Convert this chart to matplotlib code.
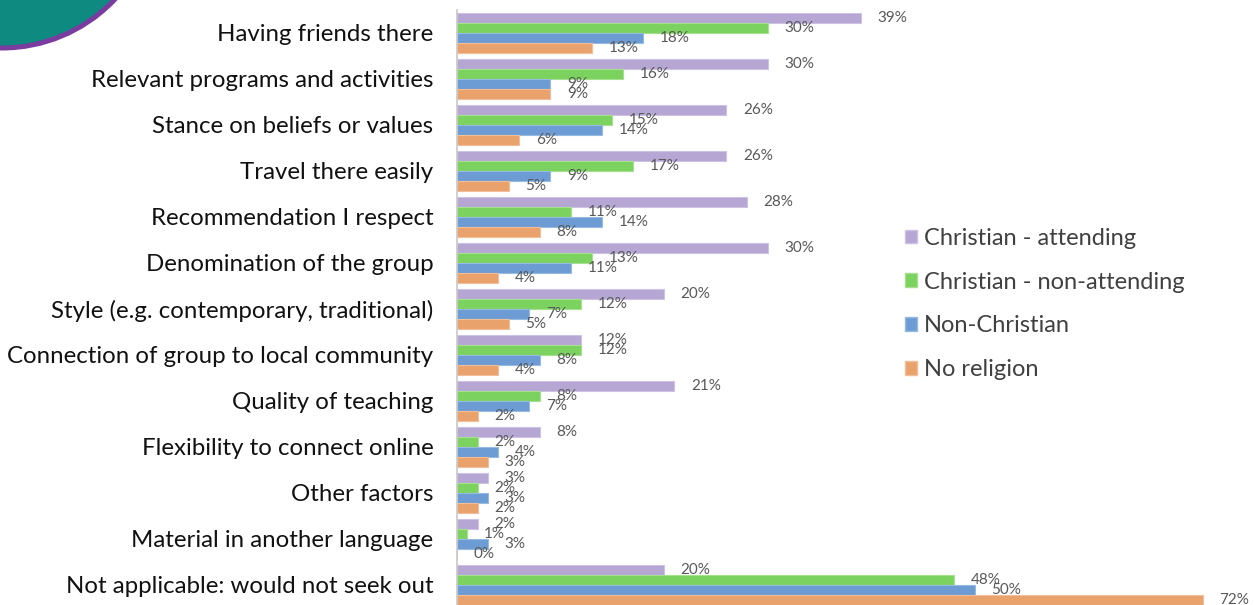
import numpy as np
import matplotlib
matplotlib.use("Agg")
import matplotlib.pyplot as plt
import matplotlib.patches as mpatches

plt.rcParams['font.family'] = ['Lato', 'DejaVu Sans']

categories = [
    "Having friends there",
    "Relevant programs and activities",
    "Stance on beliefs or values",
    "Travel there easily",
    "Recommendation I respect",
    "Denomination of the group",
    "Style (e.g. contemporary, traditional)",
    "Connection of group to local community",
    "Quality of teaching",
    "Flexibility to connect online",
    "Other factors",
    "Material in another language",
    "Not applicable: would not seek out",
]
series_names = ["Christian - attending", "Christian - non-attending",
                "Non-Christian", "No religion"]
christian_attending = [39, 30, 26, 26, 28, 30, 20, 12, 21, 8, 3, 2, 20]
christian_non_attending = [30, 16, 15, 17, 11, 13, 12, 12, 8, 2, 2, 1, 48]
non_christian = [18, 9, 14, 9, 14, 11, 7, 8, 7, 4, 3, 3, 50]
no_religion = [13, 9, 6, 5, 8, 4, 5, 4, 2, 3, 2, 0, 72]

series = [christian_attending, christian_non_attending, non_christian, no_religion]
colors = ["#B5A6D3", "#7BD25E", "#6C9CD3", "#EAA26D"]
edges = ["#CDC2E3", "#A4E08D", "#96BBE2", "#F0BE98"]

W, H = 1255, 605
fig = plt.figure(figsize=(W / 100, H / 100), dpi=100)

# axes placement (pixels)
x0, x1 = 457, 1244
y_top, y_bot = 10, 605
ax = fig.add_axes([x0 / W, 1 - y_bot / H, (x1 - x0) / W, (y_bot - y_top) / H])

n = len(categories)
y = np.arange(n)
bh = 0.2175
offsets = [-1.5, -0.5, 0.5, 1.5]

for vals, c, ec, off, name in zip(series, colors, edges, offsets, series_names):
    bars = ax.barh(y + off * bh, vals, height=bh, color=c, edgecolor=ec,
                   linewidth=0.8, label=name)
    for b, v in zip(bars, vals):
        ax.annotate(f"{v}%", (b.get_width(), b.get_y() + b.get_height() / 2),
                    xytext=(12, 0), textcoords="offset points",
                    va="center", ha="left", fontsize=11, color="#595959")

ax.set_xlim(0, 76)
ax.set_ylim(12 + 0.435, -0.5)
ax.set_yticks(y)
ax.set_yticklabels(categories, fontsize=17.3, color="#111111")
ax.tick_params(axis="y", length=0, pad=17)
ax.set_xticks([])
for s in ["top", "right", "bottom"]:
    ax.spines[s].set_visible(False)
ax.spines["left"].set_color("#C8C8C8")
ax.spines["left"].set_linewidth(1.2)

handles = [mpatches.Patch(facecolor=c, edgecolor=ec) for c, ec in zip(colors, edges)]
fig.legend(handles, series_names, loc="center left",
           bbox_to_anchor=(905 / W, 1 - 304 / H), frameon=False,
           fontsize=17, labelcolor="#404040", handlelength=0.5,
           handleheight=0.5, handletextpad=0.3, labelspacing=0.97,
           borderpad=0, borderaxespad=0)

# decorative circle in the top-left corner
circ = mpatches.Circle((2, H + 107), 155, transform=None, facecolor="#0E8A80",
                       edgecolor="#7B3CA0", linewidth=3.6, zorder=5)
fig.patches.append(circ)

fig.savefig("out.png", dpi=100)
